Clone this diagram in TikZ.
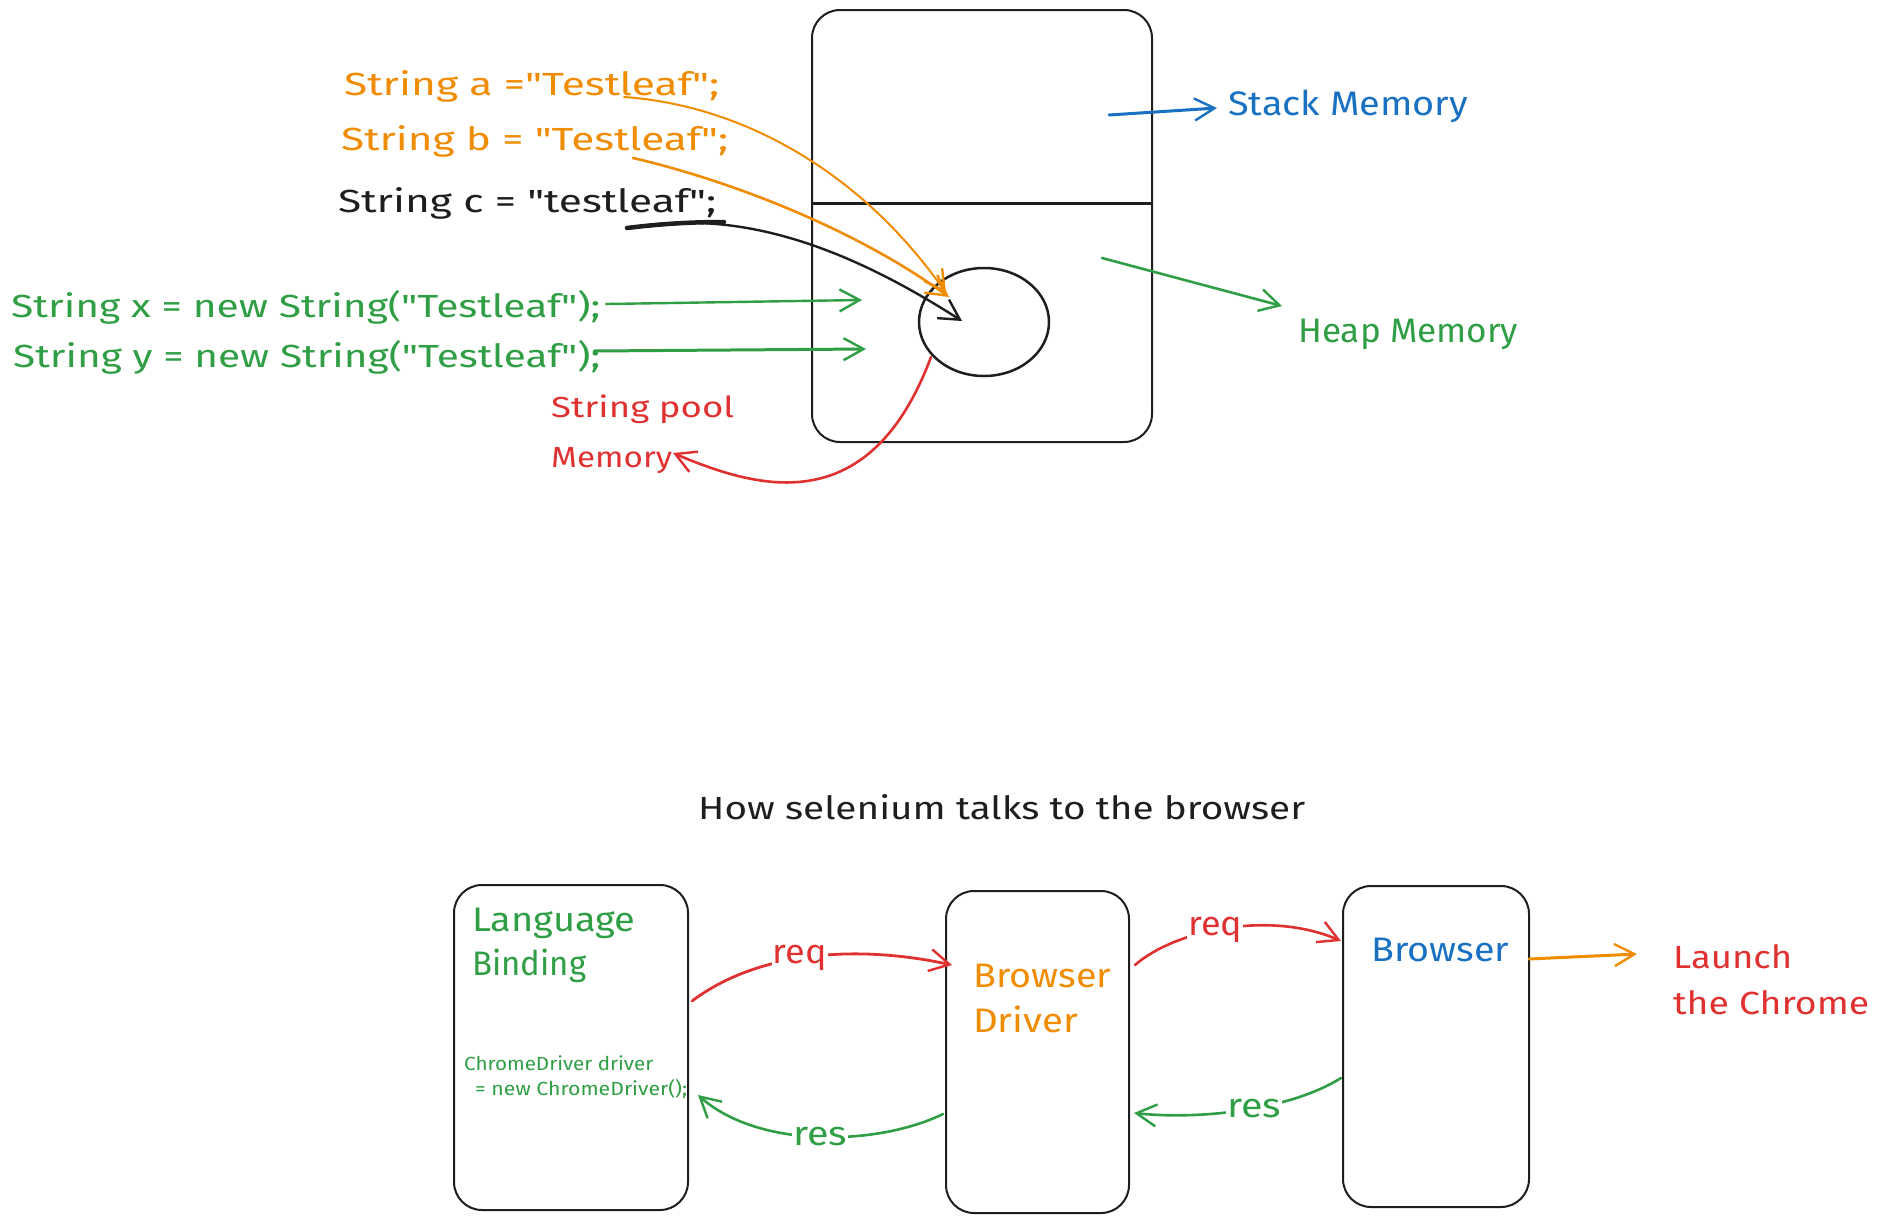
\documentclass[tikz,border=0pt]{standalone}
\usepackage{fontspec}
\setmainfont{Fira Sans}
\newfontfamily\quotefont{Fira Sans}
\usetikzlibrary{arrows.meta,shapes.geometric}
\definecolor{exorange}{HTML}{F08C00}
\definecolor{exgreen}{HTML}{2F9E44}
\definecolor{exred}{HTML}{E03131}
\definecolor{exblue}{HTML}{1971C2}
\definecolor{exblack}{HTML}{1E1E1E}
\newcommand{\fw}[2]{\resizebox{#1pt}{\height}{#2}}
\newcommand{\dq}{{\quotefont\symbol{34}}}
\begin{document}
\begin{tikzpicture}[x=1pt,y=-1pt,
  lbl/.style={inner sep=0pt, anchor=base west, font=\fontsize{32}{38}\selectfont},
  big/.style={inner sep=0pt, anchor=base west, font=\fontsize{34}{40}\selectfont},
  small/.style={inner sep=0pt, anchor=base west, font=\fontsize{19}{22}\selectfont},
  edgelbl/.style={inner sep=1pt, fill=white, font=\fontsize{34}{40}\selectfont},
  box/.style={draw=exblack, line width=2pt, rounded corners=28pt, inner sep=0pt},
  arr/.style={line width=2.4pt, line cap=round,
    -{Straight Barb[length=20pt,width=22pt,line width=2.4pt]}}]
\useasboundingbox[fill=white] (0,0) rectangle (1877,1224);

% ---------- top: memory diagram ----------
\node[box, minimum width=340, minimum height=432] (mem) at (982,226) {};
\coordinate (dv) at (0,203);
\draw[exblack, line width=3pt] (mem.west |- dv) -- (mem.east |- dv);
\node[draw=exblack, line width=2.5pt, ellipse, minimum width=130, minimum height=108, inner sep=0pt] (pool) at (984,322) {};

\node[lbl, text=exorange] (sa) at (344,95) {\fw{375}{String a =\dq Testleaf\dq;}};
\node[lbl, text=exorange] (sb) at (341,150) {\fw{387}{String b = \dq Testleaf\dq;}};
\node[lbl, text=exblack] (sc) at (338,212) {\fw{378}{String c = \dq testleaf\dq;}};
\node[lbl, text=exgreen] (sx) at (11,317) {\fw{589}{String x = new String(\dq Testleaf\dq);}};
\node[lbl, text=exgreen] (sy) at (13,367) {\fw{587}{String y = new String(\dq Testleaf\dq);}};
\node[lbl, text=exred, font=\fontsize{29}{34}\selectfont] (sp1) at (551,417) {\fw{183}{String pool}};
\node[lbl, text=exred, font=\fontsize{29}{34}\selectfont] (sp2) at (551,467) {\fw{121}{Memory}};
\node[big, text=exblue] (stk) at (1228,115) {\fw{240}{Stack Memory}};
\node[big, text=exgreen] (hp) at (1298,342) {\fw{220}{Heap Memory}};

\coordinate (aS) at (624,97);   \coordinate (aE) at (946,293);
\coordinate (bS) at (633,158);  \coordinate (bE) at (949,297);
\coordinate (cS) at (627,228);  \coordinate (cM) at (724,222); \coordinate (cE) at (962,321);
\coordinate (xS) at (606,304);  \coordinate (xE) at (862,300);
\coordinate (yS) at (594,351);  \coordinate (yE) at (866,349);
\coordinate (rS) at (931,357);  \coordinate (rE) at (673,453);
\coordinate (kS) at (1109,115); \coordinate (kE) at (1217,108);
\coordinate (hS) at (1102,258); \coordinate (hE) at (1282,306);

\draw[arr, exorange, line width=2pt] (aS) .. controls (740,105) and (860,170) .. (aE);
\draw[arr, exorange, line width=2.6pt] (bS) .. controls (720,178) and (850,225) .. (bE);
\draw[exblack, line width=4.5pt, line cap=round] (cS) .. controls (660,224) and (690,222) .. (cM);
\draw[arr, exblack, line width=2.4pt] (cS) .. controls (720,212) and (820,230) .. (cE);
\draw[arr, exgreen] (xS) -- (xE);
\draw[arr, exgreen, line width=3pt] (yS) -- (yE);
\draw[arr, exred, line width=2.6pt] (rS) .. controls (870,520) and (760,490) .. (rE);
\draw[arr, exblue, line width=3pt] (kS) -- (kE);
\draw[arr, exgreen, line width=2.6pt] (hS) -- (hE);

% ---------- bottom: selenium ----------
\node[lbl, text=exblack] (title) at (698,819) {\fw{607}{How selenium talks to the browser}};

\node[box, minimum width=234, minimum height=325] (lb) at (571,1047.5) {};
\node[box, minimum width=183, minimum height=322] (bd) at (1037.5,1052) {};
\node[box, minimum width=186, minimum height=321] (br) at (1436,1046.5) {};

\node[big, text=exgreen] (lb1) at (472,931) {\fw{163}{Language}};
\node[big, text=exgreen] (lb2) at (472,975) {\fw{114}{Binding}};
\node[small, text=exgreen] (cd1) at (464,1070) {\fw{189}{ChromeDriver driver}};
\node[small, text=exgreen] (cd2) at (475,1095) {\fw{212}{= new ChromeDriver();}};
\node[big, text=exorange] (bd1) at (973,987) {\fw{138}{Browser}};
\node[big, text=exorange] (bd2) at (973,1032) {\fw{105}{Driver}};
\node[big, text=exblue] (br1) at (1371,961) {\fw{138}{Browser}};
\node[lbl, text=exred] (ln1) at (1673,968) {\fw{119}{Launch}};
\node[lbl, text=exred] (ln2) at (1673,1014) {\fw{196}{the Chrome}};

\coordinate (q1S) at (692,1001);  \coordinate (q1E) at (952,965);
\coordinate (s1S) at (943,1114);  \coordinate (s1E) at (698,1095);
\coordinate (q2S) at (1135,965);  \coordinate (q2E) at (1341,941);
\coordinate (s2S) at (1341,1078); \coordinate (s2E) at (1134,1113);
\coordinate (oS) at (1529,959);   \coordinate (oE) at (1637,954);

\draw[arr, exred, line width=2.8pt] (q1S) .. controls (760,950) and (860,945) .. node[edgelbl, text=exred, pos=0.45] (rq1) {\fw{54}{req}} (q1E);
\draw[arr, exgreen, line width=2.6pt] (s1S) .. controls (880,1145) and (760,1150) .. node[edgelbl, text=exgreen, pos=0.5] (rs1) {\fw{54}{res}} (s1E);
\draw[arr, exred, line width=2.6pt] (q2S) .. controls (1175,930) and (1270,910) .. node[edgelbl, text=exred, pos=0.45] (rq2) {\fw{54}{req}} (q2E);
\draw[arr, exgreen, line width=2.6pt] (s2S) .. controls (1290,1110) and (1200,1120) .. node[edgelbl, text=exgreen, pos=0.45] (rs2) {\fw{54}{res}} (s2E);
\draw[arr, exorange, line width=3pt] (oS) -- (oE);
\end{tikzpicture}
\end{document}
